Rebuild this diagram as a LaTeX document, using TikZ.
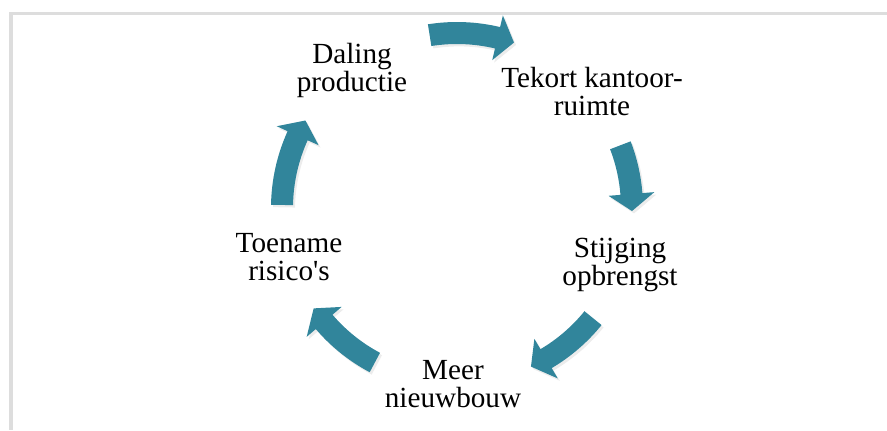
\documentclass[tikz,border=0pt]{standalone}
\usepackage{fontspec}
\setmainfont{Liberation Serif}
\usetikzlibrary{calc, shadows}
\definecolor{arrowteal}{RGB}{49,133,155}
\definecolor{framegray}{RGB}{221,221,221}

\begin{document}
\begin{tikzpicture}[x=0.5pt, y=0.5pt,
    label/.style={align=center, anchor=base, inner sep=0pt, font=\fontsize{14.6}{14}\selectfont},
    cyclearrow/.style={fill=arrowteal, drop shadow={opacity=0.15, shadow xshift=1pt, shadow yshift=-1.2pt}}]
      \useasboundingbox (0, 0) rectangle (887, 430);
      \draw[framegray, line width=1.75pt] (887, 416.5) -- (11, 416.5) -- (11, 0);

      \coordinate (c) at (457, 222);

      % curved arrows round the cycle, tail angle / tip angle
      \foreach \a/\b in {99/71, 21/-1, -39/-65, 242/215, 179/150} {
        \pgfmathsetmacro{\h}{\b + 5.6}
        \fill[cyclearrow] ($(c) + (\a:186)$) arc[start angle=\a, end angle=\h, radius=186]
          -- ($(c) + (\h:198)$) -- ($(c) + (\b:175)$) -- ($(c) + (\h:152)$) -- ($(c) + (\h:164)$)
          arc[start angle=\h, end angle=\a, radius=164] -- cycle;
      }

      % base of each node is the baseline of its last line
      \node[label] (daling) at (352, 339) {Daling\\productie};
      \node[label] (tekort) at (592, 315) {Tekort kantoor-\\ruimte};
      \node[label] (stijging) at (620, 145) {Stijging\\opbrengst};
      \node[label] (meer) at (453, 23) {Meer\\nieuwbouw};
      \node[label] (toename) at (289, 150) {Toename\\risico\textquotesingle s};
    \end{tikzpicture}
\end{document}
